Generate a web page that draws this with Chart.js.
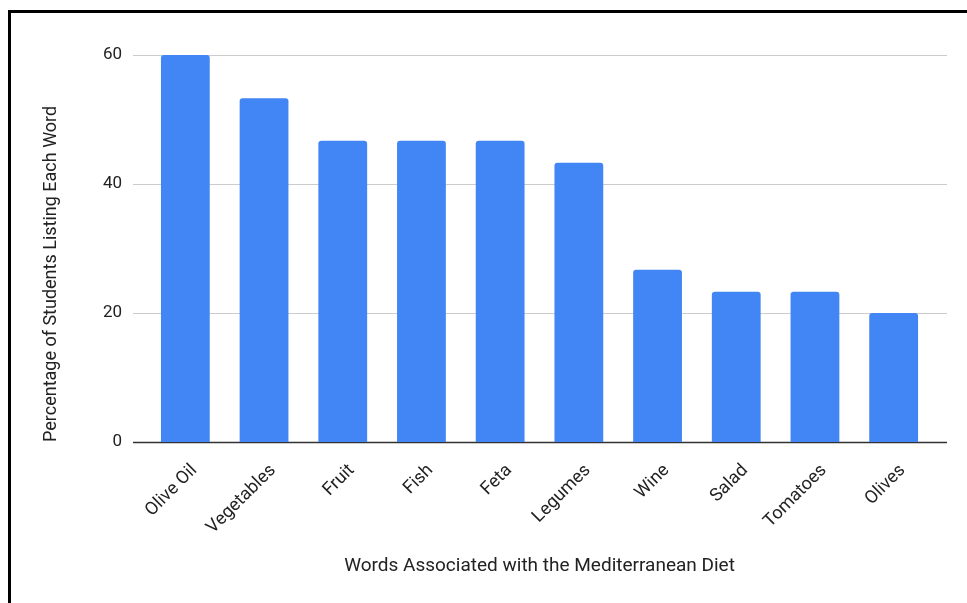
<!DOCTYPE html>
<html>
<head>
<meta charset="utf-8">
<script src="https://cdn.jsdelivr.net/npm/chart.js@4"></script>
<style>
  html, body { margin: 0; padding: 0; background: #fff; }
  #wrap { position: relative; width: 967px; height: 603px; overflow: hidden; }
  #frame { position: absolute; left: 8px; top: 10px; width: 1000px; height: 620px; border: 3px solid #000; box-sizing: border-box; pointer-events: none; }
  canvas { position: absolute; left: 0; top: 0; }
</style>
</head>
<body>
<div id="wrap">
  <canvas id="chart" width="967" height="603"></canvas>
  <div id="frame"></div>
</div>
<script>
// Data
const words = ['Olive Oil', 'Vegetables', 'Fruit', 'Fish', 'Feta', 'Legumes', 'Wine', 'Salad', 'Tomatoes', 'Olives'];
const percentages = [60, 53.3, 46.7, 46.7, 46.7, 43.3, 26.7, 23.3, 23.3, 20];
const yTicks = [0, 20, 40, 60];

// Horizontal gridlines run a bit past the bars on both sides
const gridPlugin = {
  id: 'wideGrid',
  beforeDatasetsDraw(chart) {
    const { ctx, chartArea, scales } = chart;
    ctx.save();
    yTicks.forEach(v => {
      const y = Math.round(scales.y.getPixelForValue(v)) + 0.5;
      ctx.strokeStyle = v === 0 ? '#333333' : '#cccccc';
      ctx.lineWidth = v === 0 ? 1.5 : 1;
      ctx.beginPath();
      ctx.moveTo(chartArea.left - 13, y);
      ctx.lineTo(chartArea.right + 14, y);
      ctx.stroke();
    });
    ctx.restore();
  }
};

const ctx = document.getElementById('chart').getContext('2d');
new Chart(ctx, {
  type: 'bar',
  data: {
    labels: words,
    datasets: [{
      data: percentages,
      backgroundColor: '#4285f4',
      borderRadius: { topLeft: 3, topRight: 3 },
      borderSkipped: 'bottom',
      barPercentage: 0.62,
      categoryPercentage: 1
    }]
  },
  options: {
    responsive: false,
    animation: false,
    layout: { padding: { left: 39, right: 34, top: 55, bottom: 20 } },
    plugins: { legend: { display: false }, tooltip: { enabled: false } },
    scales: {
      x: {
        grid: { display: false, drawTicks: false },
        border: { display: false },
        ticks: {
          minRotation: 45, maxRotation: 45, autoSkip: false,
          color: '#222', font: { family: 'Roboto', size: 18 }, padding: 18, labelOffset: 9
        },
        title: {
          display: true, text: 'Words Associated with the Mediterranean Diet',
          color: '#222', font: { family: 'Roboto', size: 19 }, padding: { top: 0, bottom: 5 }
        },
        afterFit: s => { s.height = 603 - 442 - 20; }
      },
      y: {
        min: 0, max: 60,
        grid: { display: false, drawTicks: false },
        border: { display: false },
        ticks: {
          stepSize: 20, color: '#222', padding: 24,
          font: { family: 'Roboto', size: 17 }
        },
        title: {
          display: true, align: 'start', text: 'Percentage of Students Listing Each Word',
          color: '#222', font: { family: 'Roboto', size: 18 }, padding: { top: 2, bottom: 0 }
        },
        afterFit: s => { s.width = 107; }
      }
    }
  },
  plugins: [gridPlugin]
});
</script>
</body>
</html>
